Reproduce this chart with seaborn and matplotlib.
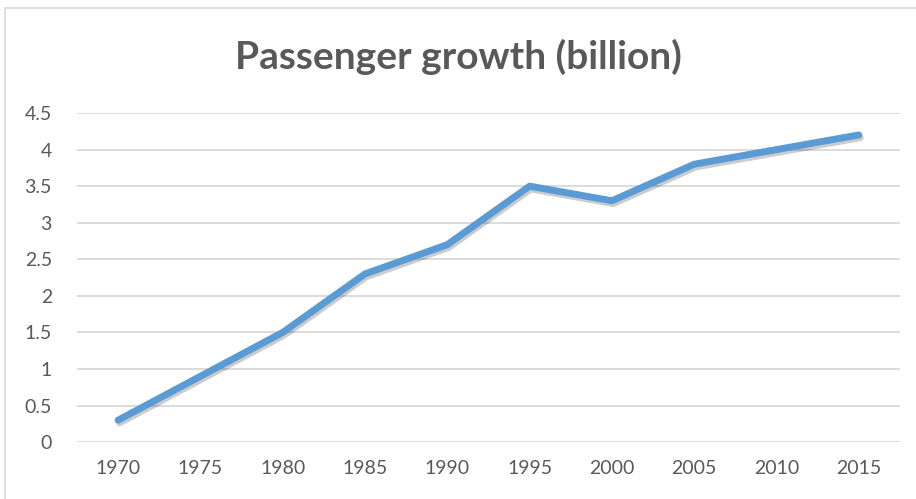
import matplotlib
matplotlib.use("Agg")
import matplotlib.pyplot as plt
import matplotlib.patheffects as pe
from matplotlib.patches import Rectangle
import pandas as pd
import seaborn as sns

# data
years = ["1970", "1975", "1980", "1985", "1990", "1995", "2000", "2005", "2010", "2015"]
passengers = [0.3, 0.9, 1.5, 2.3, 2.7, 3.5, 3.3, 3.8, 4.0, 4.2]
y_ticks = [0, 0.5, 1, 1.5, 2, 2.5, 3, 3.5, 4, 4.5]
y_labels = ["0", "0.5", "1", "1.5", "2", "2.5", "3", "3.5", "4", "4.5"]

df = pd.DataFrame({"year": years, "passengers": passengers})
df["pos"] = range(len(years))

sns.set_style("white")
plt.rcParams["font.family"] = ["Lato", "DejaVu Sans"]

fig = plt.figure(figsize=(9.16, 4.99), dpi=100)
ax = fig.add_axes([0.084, 0.114, 0.8985, 0.6595])

# light frame around the chart area
fig.patches.append(Rectangle((5 / 916, -0.1), 1.2, 1 - 8 / 499 + 0.1,
                             transform=fig.transFigure, fill=False,
                             edgecolor="#D9D9D9", linewidth=1.2))

sns.lineplot(data=df, x="pos", y="passengers", ax=ax, color="#5B9BD5",
             linewidth=5, solid_capstyle="round",
             path_effects=[pe.SimpleLineShadow(offset=(1, -2), alpha=0.2, shadow_color="black"),
                           pe.Normal()])

ax.set_xlim(-0.5, len(years) - 0.5)
ax.set_ylim(0, 4.5)
ax.set_xticks(df["pos"])
ax.set_xticklabels(years)
ax.set_yticks(y_ticks)
ax.set_yticklabels(y_labels)
ax.yaxis.grid(True, color="#D9D9D9", linewidth=1.3)
ax.set_axisbelow(True)
for s in ax.spines.values():
    s.set_visible(False)
ax.tick_params(axis="both", length=0, labelsize=14, labelcolor="#595959")
ax.tick_params(axis="x", pad=13)
ax.tick_params(axis="y", pad=18)
ax.set_xlabel("")
ax.set_ylabel("")

fig.text(0.5, 1 - 57 / 499, "Passenger growth (billion)", ha="center", va="center",
         fontsize=28, fontweight="bold", color="#595959")

fig.savefig("out.png", dpi=100)
